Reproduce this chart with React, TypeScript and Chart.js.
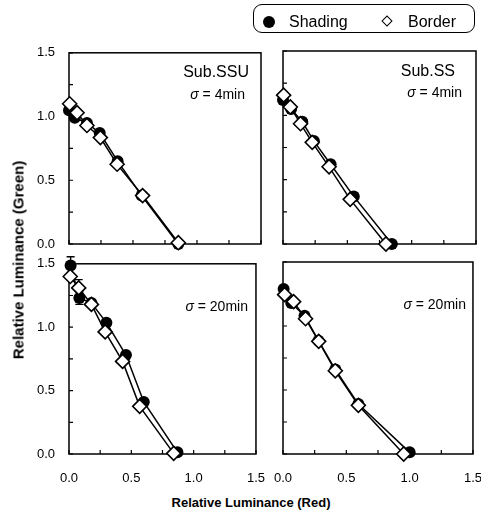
import React, { useEffect, useRef } from 'react';
import { Chart, registerables } from 'chart.js';
Chart.register(...registerables);

const FONT = '"Liberation Sans", Arial, Helvetica, sans-serif';

// Axis ticks
const axisMin = 0;
const axisMax = 1.5;
const tickStep = 0.25;

// Top-left: Sub.SSU, sigma = 4min
const tlShadingX = [0.0, 0.045, 0.14, 0.24, 0.38, 0.567, 0.854];
const tlShadingY = [1.05, 0.99, 0.95, 0.87, 0.65, 0.38, 0.0];
const tlBorderX = [0.005, 0.063, 0.14, 0.245, 0.376, 0.575, 0.854];
const tlBorderY = [1.1, 1.03, 0.93, 0.835, 0.626, 0.38, 0.01];

// Top-right: Sub.SS, sigma = 4min
const trShadingX = [0.0, 0.063, 0.15, 0.24, 0.37, 0.55, 0.846];
const trShadingY = [1.12, 1.05, 0.95, 0.8, 0.62, 0.37, 0.0];
const trBorderX = [0.005, 0.057, 0.136, 0.227, 0.358, 0.522, 0.8];
const trBorderY = [1.157, 1.065, 0.935, 0.79, 0.6, 0.347, 0.0];

// Bottom-left: Sub.SSU, sigma = 20min
const blShadingX = [0.013, 0.083, 0.18, 0.3, 0.457, 0.6, 0.87];
const blShadingY = [1.486, 1.23, 1.19, 1.036, 0.78, 0.41, 0.013];
const blShadingErr = [0.07, 0.05, 0, 0, 0, 0, 0];
const blBorderX = [0.01, 0.078, 0.18, 0.29, 0.43, 0.567, 0.84];
const blBorderY = [1.4, 1.31, 1.18, 0.963, 0.73, 0.376, 0.005];
const blBorderErr = [0, 0.065, 0, 0, 0, 0, 0];

// Bottom-right: Sub.SS, sigma = 20min
const brShadingX = [0.005, 0.065, 0.17, 0.28, 0.413, 0.595, 1.0];
const brShadingY = [1.29, 1.18, 1.08, 0.885, 0.66, 0.39, 0.013];
const brBorderX = [0.013, 0.084, 0.178, 0.282, 0.413, 0.595, 0.953];
const brBorderY = [1.245, 1.19, 1.057, 0.88, 0.65, 0.38, 0.0];

const legendLabels = ['Shading', 'Border'];
const xTitle = 'Relative Luminance (Red)';
const yTitle = 'Relative Luminance (Green)';

type Note = { text: string; sigma?: boolean; right: number; top: number; size: number };

type PanelCfg = {
  left: number;
  top: number;
  w: number;
  h: number;
  showX: boolean;
  showY: boolean;
  shX: number[];
  shY: number[];
  shErr?: number[];
  boX: number[];
  boY: number[];
  boErr?: number[];
  notes: Note[];
};

const Y_W = 45;
const PAD_TOP = 12;
const PAD_RIGHT = 14;
const X_H = 30;

const panels: PanelCfg[] = [
  {
    left: 69, top: 51, w: 192, h: 193, showX: false, showY: true,
    shX: tlShadingX, shY: tlShadingY, boX: tlBorderX, boY: tlBorderY,
    notes: [
      { text: 'Sub.SSU', right: 12, top: 20, size: 16 },
      { text: '4min', sigma: true, right: 16, top: 42, size: 14 },
    ],
  },
  {
    left: 283, top: 51, w: 193, h: 193, showX: false, showY: false,
    shX: trShadingX, shY: trShadingY, boX: trBorderX, boY: trBorderY,
    notes: [
      { text: 'Sub.SS', right: 21, top: 21, size: 16 },
      { text: '4min', sigma: true, right: 14, top: 42, size: 14 },
    ],
  },
  {
    left: 69, top: 262, w: 191, h: 192, showX: true, showY: true,
    shX: blShadingX, shY: blShadingY, shErr: blShadingErr,
    boX: blBorderX, boY: blBorderY, boErr: blBorderErr,
    notes: [{ text: '20min', sigma: true, right: 8, top: 43, size: 14 }],
  },
  {
    left: 283, top: 262, w: 194, h: 192, showX: true, showY: false,
    shX: brShadingX, shY: brShadingY, boX: brBorderX, boY: brBorderY,
    notes: [{ text: '20min', sigma: true, right: 7, top: 43, size: 14 }],
  },
];

const decorPlugin = {
  id: 'decor',
  beforeDatasetsDraw(chart: any) {
    const { ctx, chartArea: a, scales } = chart;
    ctx.save();
    ctx.strokeStyle = '#000';
    ctx.lineWidth = 1.5;
    ctx.strokeRect(a.left, a.top, a.right - a.left, a.bottom - a.top);
    ctx.lineWidth = 1.2;
    ctx.beginPath();
    for (const t of scales.x.ticks) {
      const px = scales.x.getPixelForValue(t.value);
      ctx.moveTo(px, a.bottom);
      ctx.lineTo(px, a.bottom - 4);
    }
    for (const t of scales.y.ticks) {
      const py = scales.y.getPixelForValue(t.value);
      ctx.moveTo(a.left, py);
      ctx.lineTo(a.left + 4, py);
    }
    ctx.stroke();
    // error bars
    chart.data.datasets.forEach((ds: any) => {
      const err: number[] | undefined = ds.err;
      if (!err) return;
      ds.data.forEach((p: any, i: number) => {
        const e = err[i];
        if (!e) return;
        const px = scales.x.getPixelForValue(p.x);
        const y1 = scales.y.getPixelForValue(p.y + e);
        const y2 = scales.y.getPixelForValue(p.y - e);
        ctx.lineWidth = 1.4;
        ctx.beginPath();
        ctx.moveTo(px, y1);
        ctx.lineTo(px, y2);
        ctx.moveTo(px - 4, y1);
        ctx.lineTo(px + 4, y1);
        ctx.moveTo(px - 4, y2);
        ctx.lineTo(px + 4, y2);
        ctx.stroke();
      });
    });
    ctx.restore();
  },
  afterDraw(chart: any, _args: any, opts: any) {
    const { ctx, chartArea: a } = chart;
    const notes: Note[] = opts.notes || [];
    ctx.save();
    ctx.fillStyle = '#000';
    ctx.textBaseline = 'middle';
    for (const n of notes) {
      const x = a.right - n.right;
      const y = a.top + n.top;
      if (n.sigma) {
        const rest = ' = ' + n.text;
        ctx.font = `${n.size}px ${FONT}`;
        const wr = ctx.measureText(rest).width;
        ctx.font = `italic ${n.size}px ${FONT}`;
        const ws = ctx.measureText('σ').width;
        ctx.textAlign = 'left';
        ctx.fillText('σ', x - wr - ws, y);
        ctx.font = `${n.size}px ${FONT}`;
        ctx.fillText(rest, x - wr, y);
      } else {
        ctx.font = `${n.size}px ${FONT}`;
        ctx.textAlign = 'right';
        ctx.fillText(n.text, x, y);
      }
    }
    ctx.restore();
  },
};

const halfLabel = (v: any) => {
  const n = Number(v);
  return Math.abs(n * 2 - Math.round(n * 2)) < 1e-6 ? n.toFixed(1) : '';
};

function Panel({ cfg }: { cfg: PanelCfg }) {
  const ref = useRef<HTMLCanvasElement>(null);
  const W = Y_W + cfg.w + PAD_RIGHT;
  const H = PAD_TOP + cfg.h + X_H;
  useEffect(() => {
    const chart = new Chart(ref.current as HTMLCanvasElement, {
      type: 'scatter',
      data: {
        datasets: [
          {
            label: 'Border',
            data: cfg.boX.map((x, i) => ({ x, y: cfg.boY[i] })),
            err: cfg.boErr,
            showLine: true,
            borderColor: '#000',
            borderWidth: 1.5,
            pointStyle: 'rectRot',
            pointRadius: 7,
            pointBackgroundColor: '#fff',
            pointBorderColor: '#000',
            pointBorderWidth: 1.6,
            clip: false,
          } as any,
          {
            label: 'Shading',
            data: cfg.shX.map((x, i) => ({ x, y: cfg.shY[i] })),
            err: cfg.shErr,
            showLine: true,
            borderColor: '#000',
            borderWidth: 1.5,
            pointStyle: 'circle',
            pointRadius: 6,
            pointBackgroundColor: '#000',
            pointBorderColor: '#000',
            pointBorderWidth: 0,
            clip: false,
          } as any,
        ],
      },
      options: {
        animation: false,
        responsive: false,
        devicePixelRatio: 1,
        layout: { padding: { top: PAD_TOP, right: PAD_RIGHT, left: 0, bottom: 0 } },
        plugins: {
          legend: { display: false },
          tooltip: { enabled: false },
          decor: { notes: cfg.notes },
        } as any,
        scales: {
          x: {
            type: 'linear',
            min: axisMin,
            max: axisMax,
            grid: { display: false },
            border: { display: false },
            ticks: {
              stepSize: tickStep,
              display: cfg.showX,
              autoSkip: false,
              maxRotation: 0,
              padding: 9,
              color: '#000',
              font: { family: FONT, size: 13 },
              callback: halfLabel,
            },
            afterFit: (s: any) => { s.height = X_H; },
          },
          y: {
            type: 'linear',
            min: axisMin,
            max: axisMax,
            grid: { display: false },
            border: { display: false },
            ticks: {
              stepSize: tickStep,
              display: cfg.showY,
              autoSkip: false,
              padding: 6,
              color: '#000',
              font: { family: FONT, size: 13 },
              callback: halfLabel,
            },
            afterFit: (s: any) => { s.width = Y_W; },
          },
        },
      },
      plugins: [decorPlugin],
    });
    return () => chart.destroy();
  }, []);
  return (
    <canvas
      ref={ref}
      width={W}
      height={H}
      style={{ position: 'absolute', left: cfg.left - Y_W, top: cfg.top - PAD_TOP, width: W, height: H }}
    />
  );
}

export default function App() {
  return (
    <div style={{ position: 'absolute', left: 0, top: 0, width: 481, height: 510, background: '#fff', fontFamily: FONT, color: '#000', overflow: 'hidden' }}>
      {panels.map((p, i) => (
        <Panel key={i} cfg={p} />
      ))}
      <div
        style={{
          position: 'absolute', left: 253, top: 4, width: 222, height: 29, boxSizing: 'border-box',
          border: '1.5px solid #000', borderRadius: 9,
        }}
      >
        <div style={{ position: 'absolute', left: 9, top: 11, width: 12, height: 12, borderRadius: '50%', background: '#000' }} />
        <div style={{ position: 'absolute', left: 35, top: 7, fontSize: 16, lineHeight: '19px', whiteSpace: 'nowrap' }}>{legendLabels[0]}</div>
        <div
          style={{
            position: 'absolute', left: 129, top: 12, width: 8, height: 8, boxSizing: 'border-box',
            border: '1.6px solid #000', background: '#fff', transform: 'rotate(45deg)',
          }}
        />
        <div style={{ position: 'absolute', left: 154, top: 7, fontSize: 16, lineHeight: '19px', whiteSpace: 'nowrap' }}>{legendLabels[1]}</div>
      </div>
      <div
        style={{
          position: 'absolute', left: 251, top: 502, transform: 'translate(-50%, -50%)',
          fontWeight: 'bold', fontSize: 13, whiteSpace: 'nowrap',
        }}
      >
        {xTitle}
      </div>
      <div
        style={{
          position: 'absolute', left: 18, top: 260, transform: 'translate(-50%, -50%) rotate(-90deg)',
          fontWeight: 'bold', fontSize: 15, whiteSpace: 'nowrap',
        }}
      >
        {yTitle}
      </div>
    </div>
  );
}
